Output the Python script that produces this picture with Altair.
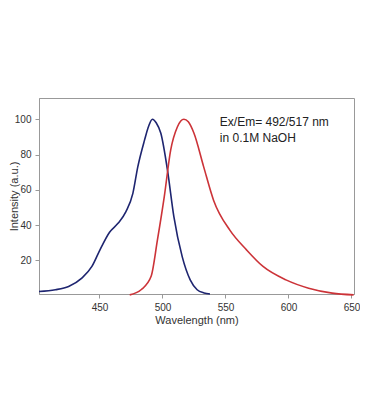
import altair as alt
import pandas as pd

ex_wl = [402, 415, 425.5, 436, 444, 450.4, 458, 464.7, 471, 476.5, 480.4, 485.7, 489, 492, 495, 498.7, 504, 509, 515.7, 522, 527.5, 533, 537.7]
ex_val = [2.4, 3.4, 5.3, 10, 16.6, 26, 36, 41, 47.6, 58, 73, 88, 96, 100, 98, 92, 71, 45, 22, 9, 3.4, 1.6, 1]

em_wl = [474, 483, 491, 496, 501.4, 506.5, 511.8, 514.5, 517, 520.5, 525, 532.7, 540.6, 553.6, 566.7, 579.8, 598, 616, 634.7, 651.7]
em_val = [0.5, 3.4, 11, 31.6, 56, 82.5, 95.6, 99, 100, 98.5, 92, 73, 54, 37, 26, 16.6, 9, 4.3, 1.5, 0.5]

labels = ["Ex/Em= 492/517 nm", "in 0.1M NaOH"]
label_wl = [545.5, 545.5]
label_val = [98.5, 89.5]

df = pd.concat([
    pd.DataFrame({"wl": ex_wl, "val": ex_val, "s": "Excitation"}),
    pd.DataFrame({"wl": em_wl, "val": em_val, "s": "Emission"}),
])
tdf = pd.DataFrame({"wl": label_wl, "val": label_val, "t": labels})

x = alt.X("wl:Q", title="Wavelength (nm)",
          scale=alt.Scale(domain=[402, 652], nice=False, zero=False),
          axis=alt.Axis(values=[450, 500, 550, 600, 650], grid=False))
y = alt.Y("val:Q", title="Intensity (a.u.)",
          scale=alt.Scale(domain=[1, 112], nice=False, zero=False),
          axis=alt.Axis(values=[20, 40, 60, 80, 100], grid=False))

lines = alt.Chart(df).mark_line(strokeWidth=1.6, interpolate="monotone").encode(
    x=x, y=y,
    color=alt.Color("s:N", legend=None,
                    scale=alt.Scale(domain=["Excitation", "Emission"], range=["#1e2570", "#cc3338"])),
    detail="s:N",
)
text = alt.Chart(tdf).mark_text(align="left", baseline="middle", fontSize=12,
                                font="Liberation Sans", color="#222222").encode(
    x="wl:Q", y="val:Q", text="t:N")

chart = alt.layer(lines, text).properties(
    width=315, height=196,
    autosize=alt.AutoSizeParams(type="none"),
    padding={"left": 31, "top": 90, "right": 6, "bottom": 60},
).configure_view(stroke="#999999", strokeWidth=1).configure_axis(
    domainColor="#999999", tickColor="#999999", tickSize=4,
    labelFont="Liberation Sans", labelFontSize=10, labelColor="#333333", labelPadding=4,
    titleFont="Liberation Sans", titleFontSize=11, titleFontWeight="normal", titleColor="#333333",
).configure_axisX(titlePadding=2).configure_axisY(titlePadding=-5)

chart.save("out.html", embed_options={"renderer": "svg", "actions": False})
